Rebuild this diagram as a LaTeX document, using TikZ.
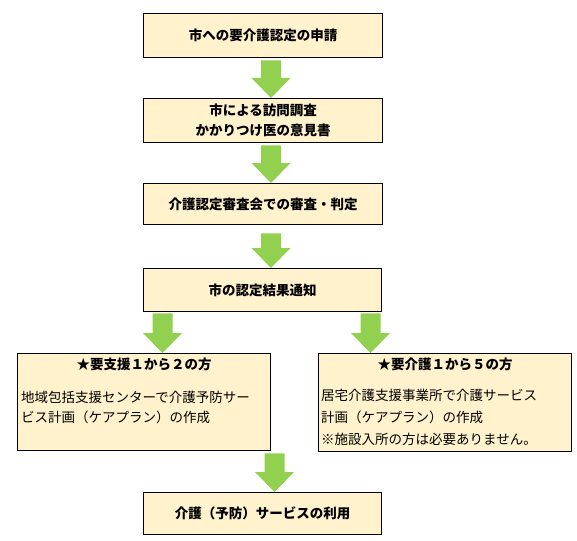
\documentclass[tikz,border=0pt]{standalone}
\usepackage{fontspec}
\setmainfont{Noto Sans CJK JP}
\usepackage{tikz}
\usetikzlibrary{calc}
\definecolor{boxfill}{HTML}{FFF2CC}
\definecolor{arrowgreen}{HTML}{92D050}

\begin{document}
\begin{tikzpicture}[x=1pt,y=-1pt,
    every node/.style={inner sep=0pt},
    stepbox/.style={draw=black,line width=1.3pt,fill=boxfill,anchor=north west,align=center,
      font=\fontsize{13.5}{20}\selectfont\bfseries},
    headtext/.style={font=\fontsize{13.5}{20}\selectfont\bfseries},
    bodytext/.style={anchor=north west,align=left,font=\fontsize{13.5}{20}\selectfont}]
  \useasboundingbox (0,0) rectangle (577,540);
  \node[stepbox,minimum width=239pt,minimum height=44pt] (apply) at (143,13) {市への要介護認定の申請};
  \node[stepbox,minimum width=239pt,minimum height=44pt] (survey) at (143,98) {市による訪問調査\\かかりつけ医の意見書};
  \node[stepbox,minimum width=239pt,minimum height=41pt] (review) at (143,183) {介護認定審査会での審査・判定};
  \node[stepbox,minimum width=238pt,minimum height=43pt] (notice) at (143,268) {市の認定結果通知};
  \node[stepbox,minimum width=253pt,minimum height=97pt] (support) at (17,353) {};
  \node[stepbox,minimum width=253pt,minimum height=98pt] (care) at (318,353) {};
  \node[stepbox,minimum width=238pt,minimum height=42pt] (service) at (143,492) {介護（予防）サービスの利用};
  \node[headtext] (supporthead) at ($(support.north)+(0,11)$) {★要支援１から２の方};
  \node[headtext] (carehead) at ($(care.north)+(0,11)$) {★要介護１から５の方};
  \node[bodytext] (supportplan) at ($(support.north west)+(4,38)$) {地域包括支援センターで介護予防サー\\ビス計画（ケアプラン）の作成};
  \node[bodytext,font=\fontsize{13.5}{22}\selectfont] (careplan) at ($(care.north west)+(3,36)$) {居宅介護支援事業所で介護サービス\\計画（ケアプラン）の作成\\※施設入所の方は必要ありません。};
  \foreach \a/\b/\xc/\g in {apply/survey/271pt/2pt, survey/review/271pt/2pt, review/notice/271pt/8pt,
      notice/support/162.5pt/1pt, notice/care/370.5pt/1pt, support/service/274.5pt/2pt}
    \fill[arrowgreen] let \p1=(\a.south), \p2=(\b.north) in
      ({\xc-10pt},{\y1-\g}) -- ({\xc+10pt},{\y1-\g}) -- ({\xc+10pt},{\y2+20pt}) -- ({\xc+19.5pt},{\y2+20pt})
      -- (\xc,\y2) -- ({\xc-19.5pt},{\y2+20pt}) -- ({\xc-10pt},{\y2+20pt}) -- cycle;
\end{tikzpicture}
\end{document}
